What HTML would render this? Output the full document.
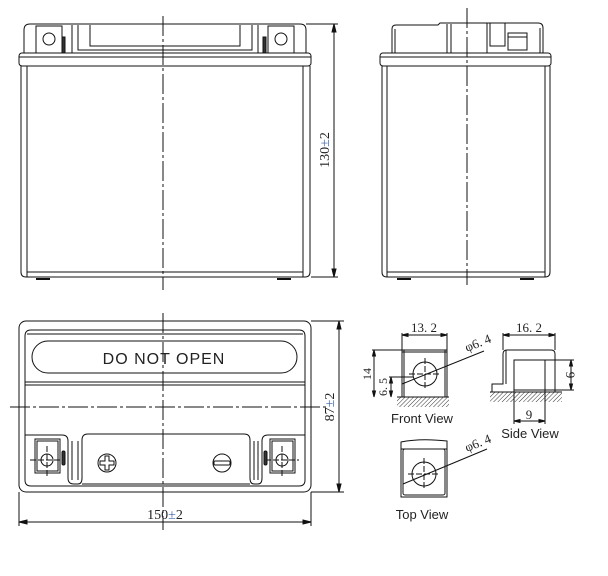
<!DOCTYPE html>
<html><head><meta charset="utf-8"><style>
html,body{margin:0;padding:0;background:#fff;}
svg{display:block;}
text{font-family:"Liberation Sans",sans-serif;fill:#222;}
.s{font-family:"Liberation Serif",serif;}
</style></head><body>
<svg width="608" height="576" viewBox="0 0 608 576" xmlns="http://www.w3.org/2000/svg">
<defs>
<pattern id="h" width="3" height="3" patternUnits="userSpaceOnUse" patternTransform="rotate(45)"><line x1="0" y1="0" x2="0" y2="3" stroke="#333" stroke-width="1"/></pattern>
</defs>
<g fill="none" stroke="#111" stroke-width="1">
<path d="M24 53 L24 30 Q24 24 30 24 L300 24 Q306 24 306 30 L306 53"/>
<rect x="36" y="26" width="26" height="27"/>
<circle cx="49" cy="39" r="6"/>
<rect x="268" y="26" width="26" height="27"/>
<circle cx="281" cy="39" r="6"/>
<rect x="62" y="37" width="3" height="16" fill="#333"/>
<rect x="263" y="37" width="3" height="16" fill="#333"/>
<path d="M72 25 L72 53 M78 25 L78 50 L252 50 L252 25 M258 25 L258 53 M90 25 L90 46 L240 46 L240 25"/>
<rect x="19" y="53" width="292" height="13" rx="3"/>
<line x1="19" y1="57" x2="311" y2="57"/>
<path d="M21 66 L21 272 Q21 277 26 277 L305 277 Q310 277 310 272 L310 66"/>
<line x1="27" y1="66" x2="27" y2="277"/>
<line x1="303" y1="66" x2="303" y2="277"/>
<line x1="27" y1="272" x2="303" y2="272"/>
<line x1="36" y1="279" x2="50" y2="279" stroke-width="2"/>
<line x1="277" y1="279" x2="291" y2="279" stroke-width="2"/>
<line x1="163" y1="16" x2="163" y2="290" stroke-dasharray="20 3 3 3"/>
<line x1="306" y1="24" x2="338" y2="24"/>
<line x1="311" y1="277" x2="338" y2="277"/>
<line x1="334" y1="24" x2="334" y2="277"/>
<path d="M334 24 L332 32 L336 32Z M334 277 L332 269 L336 269Z" fill="#111"/>
<path d="M392 53 L392 29 Q392 25 396 25 L438 25 L440 23 L538 23 Q543 23 543 28 L543 53"/>
<line x1="395" y1="53" x2="395" y2="29"/>
<line x1="540" y1="53" x2="540" y2="28"/>
<path d="M447 24 L447 53 M451 24 L451 53 M487 23 L487 53 M490 23 L490 46 L505 46 L505 23"/>
<rect x="508" y="33" width="19" height="17"/>
<line x1="508" y1="37" x2="527" y2="37"/>
<rect x="380" y="53" width="171" height="13" rx="3"/>
<line x1="380" y1="57" x2="551" y2="57"/>
<path d="M382 66 L382 272 Q382 277 387 277 L545 277 Q550 277 550 272 L550 66"/>
<line x1="387" y1="66" x2="387" y2="277"/>
<line x1="545" y1="66" x2="545" y2="277"/>
<line x1="387" y1="272" x2="545" y2="272"/>
<line x1="397" y1="279" x2="411" y2="279" stroke-width="2"/>
<line x1="520" y1="279" x2="534" y2="279" stroke-width="2"/>
<line x1="467" y1="8" x2="467" y2="285" stroke-dasharray="20 3 3 3"/>
<rect x="19" y="321" width="292" height="171" rx="7"/>
<path d="M25 336 Q25 330 31 330 L299 330 Q305 330 305 336 L305 430 M25 336 L25 430"/>
<line x1="27" y1="334" x2="303" y2="334"/>
<rect x="32" y="341" width="265" height="32" rx="16"/>
<line x1="25" y1="382" x2="305" y2="382"/>
<line x1="25" y1="385" x2="305" y2="385"/>
<path d="M25 430 L25 480 Q25 486 31 486 L299 486 Q305 486 305 480 L305 430"/>
<path d="M25 435 L62 435 Q68 435 68 441 L68 478 Q68 484 74 484 L78 484 Q82 484 82 478 L82 440 Q82 434 88 434 L244 434 Q250 434 250 440 L250 478 Q250 484 254 484 L258 484 Q262 484 262 478 L262 441 Q262 435 268 435 L305 435"/>
<path d="M72 441 L72 480 M78 441 L78 480 M254 441 L254 480 M258 441 L258 480"/>
<line x1="82" y1="484" x2="250" y2="484"/>
<rect x="35" y="439" width="25" height="34"/>
<rect x="37" y="441" width="21" height="30"/>
<circle cx="47" cy="460" r="6"/>
<path d="M30 460 L64 460 M47 446 L47 476" stroke-dasharray="6 2"/>
<rect x="62" y="451" width="3" height="14" rx="1.5" fill="#333"/>
<rect x="270" y="439" width="25" height="34"/>
<rect x="272" y="441" width="21" height="30"/>
<circle cx="282" cy="460" r="6"/>
<path d="M265 460 L299 460 M282 446 L282 476" stroke-dasharray="6 2"/>
<rect x="264" y="451" width="3" height="14" rx="1.5" fill="#333"/>
<circle cx="107" cy="463" r="9"/>
<path d="M105 456 h4 v5 h5 v4 h-5 v5 h-4 v-5 h-5 v-4 h5z"/>
<circle cx="222" cy="463" r="9"/>
<rect x="214" y="461" width="16" height="4" rx="1"/>
<line x1="163" y1="313" x2="163" y2="530" stroke-dasharray="20 3 3 3"/>
<line x1="10" y1="407" x2="327" y2="407" stroke-dasharray="20 3 3 3"/>
<line x1="311" y1="321" x2="344" y2="321"/>
<line x1="311" y1="492" x2="344" y2="492"/>
<line x1="339" y1="321" x2="339" y2="492"/>
<path d="M339 321 L337 329 L341 329Z M339 492 L337 484 L341 484Z" fill="#111"/>
<line x1="19" y1="492" x2="19" y2="526"/>
<line x1="311" y1="492" x2="311" y2="526"/>
<line x1="19" y1="522" x2="311" y2="522"/>
<path d="M19 522 L27 520 L27 524Z M311 522 L303 520 L303 524Z" fill="#111"/>
<rect x="402" y="350" width="45" height="47"/>
<line x1="404" y1="350" x2="404" y2="397"/>
<line x1="445" y1="350" x2="445" y2="397"/>
<line x1="402" y1="352" x2="447" y2="352"/>
<rect x="397" y="397" width="52" height="10" fill="url(#h)" stroke="none"/>
<line x1="397" y1="397" x2="449" y2="397"/>
<circle cx="425" cy="374" r="12"/>
<path d="M409 374 L441 374 M425 358 L425 390" stroke-dasharray="6 2"/>
<line x1="402" y1="335" x2="447" y2="335"/>
<line x1="402" y1="333" x2="402" y2="350"/>
<line x1="447" y1="333" x2="447" y2="350"/>
<path d="M402 335 L408 333.5 L408 336.5Z M447 335 L441 333.5 L441 336.5Z" fill="#111"/>
<line x1="372" y1="350" x2="402" y2="350"/>
<line x1="374" y1="350" x2="374" y2="397"/>
<path d="M374 350 L372.5 356 L375.5 356Z M374 397 L372.5 391 L375.5 391Z" fill="#111"/>
<line x1="389" y1="377" x2="413" y2="377"/>
<line x1="391" y1="377" x2="391" y2="397"/>
<path d="M391 377 L389.5 383 L392.5 383Z M391 397 L389.5 391 L392.5 391Z" fill="#111"/>
<line x1="402" y1="384" x2="484" y2="351"/>
<path d="M492 392 L492 384 L503 384 L503 354 Q503 350 507 350 L551 350 Q555 350 555 354 L555 392"/>
<line x1="506" y1="350" x2="506" y2="384"/>
<rect x="514" y="360" width="31" height="30"/>
<rect x="490" y="392" width="72" height="10" fill="url(#h)" stroke="none"/>
<line x1="490" y1="392" x2="562" y2="392"/>
<line x1="503" y1="335" x2="555" y2="335"/>
<line x1="503" y1="333" x2="503" y2="350"/>
<line x1="555" y1="333" x2="555" y2="350"/>
<path d="M503 335 L509 333.5 L509 336.5Z M555 335 L549 333.5 L549 336.5Z" fill="#111"/>
<line x1="545" y1="360" x2="574" y2="360"/>
<line x1="545" y1="390" x2="574" y2="390"/>
<line x1="571" y1="360" x2="571" y2="390"/>
<path d="M571 360 L569.5 366 L572.5 366Z M571 390 L569.5 384 L572.5 384Z" fill="#111"/>
<line x1="514" y1="390" x2="514" y2="424"/>
<line x1="545" y1="390" x2="545" y2="424"/>
<line x1="514" y1="421" x2="545" y2="421"/>
<path d="M514 421 L520 419.5 L520 422.5Z M545 421 L539 419.5 L539 422.5Z" fill="#111"/>
<path d="M401 497 L401 442 Q420 438 447 441 L447 497 Z"/>
<rect x="403" y="449" width="42" height="46" rx="2"/>
<line x1="401" y1="449" x2="447" y2="449"/>
<circle cx="424" cy="474" r="12"/>
<path d="M408 474 L440 474 M424 458 L424 490" stroke-dasharray="6 2"/>
<line x1="403" y1="484" x2="487" y2="449"/>
</g>
<text x="164" y="364" font-size="16" text-anchor="middle" letter-spacing="1">DO NOT  OPEN</text>
<text class="s" x="329" y="150" font-size="14" text-anchor="middle" transform="rotate(-90 329 150)">130<tspan fill="#3b5fa8">±</tspan>2</text>
<text class="s" x="334" y="407" font-size="14" text-anchor="middle" transform="rotate(-90 334 407)">87<tspan fill="#3b5fa8">±</tspan>2</text>
<text class="s" x="165" y="519" font-size="14" text-anchor="middle">150<tspan fill="#3b5fa8">±</tspan>2</text>
<text class="s" x="424" y="332" font-size="13" text-anchor="middle">13. 2</text>
<text class="s" x="529" y="332" font-size="13" text-anchor="middle">16. 2</text>
<text class="s" x="467" y="352" font-size="13" transform="rotate(-22 467 352)">φ6. 4</text>
<text class="s" x="467" y="452" font-size="13" transform="rotate(-22 467 452)">φ6. 4</text>
<text class="s" x="371" y="374" font-size="12" text-anchor="middle" transform="rotate(-90 371 374)">14</text>
<text class="s" x="387" y="387" font-size="12" text-anchor="middle" transform="rotate(-90 387 387)">6. 5</text>
<text class="s" x="566" y="375" font-size="13" text-anchor="middle" transform="rotate(90 566 375)">9</text>
<text class="s" x="529" y="419" font-size="13" text-anchor="middle">9</text>
<text x="422" y="423" font-size="13" text-anchor="middle">Front View</text>
<text x="530" y="438" font-size="13" text-anchor="middle">Side View</text>
<text x="422" y="519" font-size="13" text-anchor="middle">Top View</text>
</svg>
</body></html>
